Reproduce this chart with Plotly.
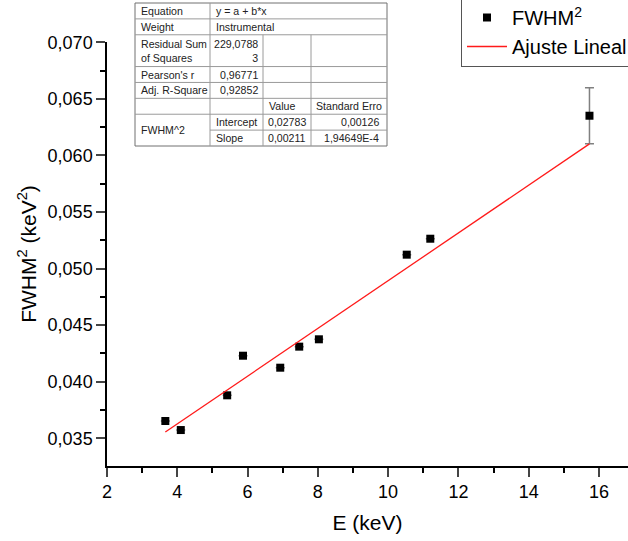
import plotly.graph_objects as go

# ---- data ----
energy = [3.66, 4.10, 5.42, 5.87, 6.93, 7.47, 8.03, 10.53, 11.20, 15.73]
fwhm2 = [0.03653, 0.03573, 0.03880, 0.04230, 0.04124, 0.04310, 0.04375, 0.05123, 0.05264, 0.06351]
fwhm2_err = [0, 0, 0, 0, 0, 0, 0, 0, 0, 0.00248]
intercept = 0.02783
slope = 0.00211

x_ticks = [2, 4, 6, 8, 10, 12, 14, 16]
y_ticks = [0.035, 0.040, 0.045, 0.050, 0.055, 0.060, 0.065, 0.070]

table_rows = [
    ["Equation", "y = a + b*x", "", ""],
    ["Weight", "Instrumental", "", ""],
    ["Residual Sum<br>of Squares", "229,0788<br>3", "", ""],
    ["Pearson's r", "0,96771", "", ""],
    ["Adj. R-Square", "0,92852", "", ""],
    ["", "", "Value", "Standard Erro"],
    ["FWHM^2", "Intercept", "0,02783", "0,00126"],
    ["", "Slope", "0,00211", "1,94649E-4"],
]

# ---- layout geometry (pixels) ----
FW, FH = 628, 541
L, T, B = 107, 42, 466
W, H = FW - L, B - T

def px(x):
    return (x - L) / W

def py(y):
    return (B - y) / H

fit_x = [min(energy), max(energy)]
fit_y = [intercept + slope * v for v in fit_x]

fig = go.Figure()
fig.add_trace(go.Scatter(
    x=energy, y=fwhm2, mode="markers", name="FWHM<sup>2</sup>",
    marker=dict(symbol="square", size=8, color="black"),
    error_y=dict(type="data", array=fwhm2_err, visible=True,
                 color="#808080", thickness=1.5, width=4.5),
    cliponaxis=False,
))
fig.add_trace(go.Scatter(
    x=fit_x, y=fit_y, mode="lines", name="Ajuste Lineal",
    line=dict(color="#ff1a1a", width=1.3),
))

font_family = "Arial, Liberation Sans, sans-serif"

fig.update_layout(
    width=FW, height=FH,
    margin=dict(l=L, r=0, t=T, b=FH - B, autoexpand=False),
    paper_bgcolor="white", plot_bgcolor="white",
    separators=",.",
    font=dict(family=font_family, color="black"),
    showlegend=True,
    legend=dict(
        x=px(461), y=py(-3), xanchor="left", yanchor="top",
        bordercolor="#555555", borderwidth=1, bgcolor="white",
        font=dict(size=20, family=font_family),
        itemwidth=40, tracegroupgap=0,
    ),
)

fig.update_xaxes(
    range=[2, 2 + W / 35.14],
    tickvals=x_ticks, ticks="outside", ticklen=9, tickwidth=1.5,
    showline=True, linecolor="black", linewidth=1.5,
    showgrid=False, zeroline=False,
    tickfont=dict(size=18),
    minor=dict(dtick=1, tick0=0, ticks="outside", ticklen=5, tickwidth=1.5, tickcolor="black", showgrid=False),
    title=dict(text="E (keV)", font=dict(size=21), standoff=14),
)
fig.update_yaxes(
    range=[0.035 - (B - 438.3) / 11314, 0.070 + (42.3 - T) / 11314],
    tickvals=y_ticks, tickformat=".3f", ticks="outside", ticklen=9, tickwidth=1.5,
    showline=True, linecolor="black", linewidth=1.5,
    showgrid=False, zeroline=False,
    tickfont=dict(size=18),
    minor=dict(dtick=0.0025, tick0=0, ticks="outside", ticklen=5, tickwidth=1.5, tickcolor="black", showgrid=False),
    title=dict(text="FWHM<sup>2</sup> (keV<sup>2</sup>)", font=dict(size=21), standoff=5),
)

# ---- parameter table (Origin style) ----
cols = [135, 210, 263, 311, 387]
row_units = [1, 1, 2, 1, 1, 1, 1, 1]
top, bottom = 3, 146
unit = (bottom - top) / sum(row_units)
bounds = [top]
for u in row_units:
    bounds.append(bounds[-1] + u * unit)

shapes = []
line_c = "#9a9a9a"

def hline(x0, x1, y, c=line_c):
    shapes.append(dict(type="line", xref="paper", yref="paper",
                       x0=px(x0), x1=px(x1), y0=py(y), y1=py(y),
                       line=dict(color=c, width=1)))

def vline(x, y0, y1, c=line_c):
    shapes.append(dict(type="line", xref="paper", yref="paper",
                       x0=px(x), x1=px(x), y0=py(y0), y1=py(y1),
                       line=dict(color=c, width=1)))

shapes.append(dict(type="rect", xref="paper", yref="paper",
                   x0=px(cols[0]), x1=px(cols[-1]), y0=py(bottom), y1=py(top),
                   line=dict(color="#707070", width=1), fillcolor="white", layer="above"))
for i in range(1, 8):
    if i == 7:
        hline(cols[1], cols[-1], bounds[i])
    else:
        hline(cols[0], cols[-1], bounds[i])
vline(cols[1], top, bottom)
vline(cols[2], bounds[2], bottom)
vline(cols[3], bounds[2], bottom)

annotations = []

def txt(x, y, s, anchor):
    annotations.append(dict(xref="paper", yref="paper", x=px(x), y=py(y), text=s,
                            showarrow=False, xanchor=anchor, yanchor="middle",
                            align="right" if anchor == "right" else "left",
                            font=dict(size=10.6, color="#222222", family=font_family)))

for r, row in enumerate(table_rows):
    yc = (bounds[r] + bounds[r + 1]) / 2
    c0, c1, c2, c3 = row
    if c0:
        if c0 == "FWHM^2":
            txt(cols[0] + 4, bounds[r + 1], c0, "left")
        else:
            txt(cols[0] + 4, yc, c0, "left")
    if c1:
        if r in (0, 1, 6, 7):
            txt(cols[1] + 4, yc, c1, "left")
        else:
            txt(cols[2] - 3, yc, c1, "right")
    if c2:
        if r == 5:
            txt(cols[2] + 4, yc, c2, "left")
        else:
            txt(cols[3] - 3, yc, c2, "right")
    if c3:
        if r == 5:
            txt(cols[3] + 3, yc, c3, "left")
        else:
            txt(cols[4] - 6, yc, c3, "right")

fig.update_layout(shapes=shapes, annotations=annotations)

fig.write_html("out.html")
